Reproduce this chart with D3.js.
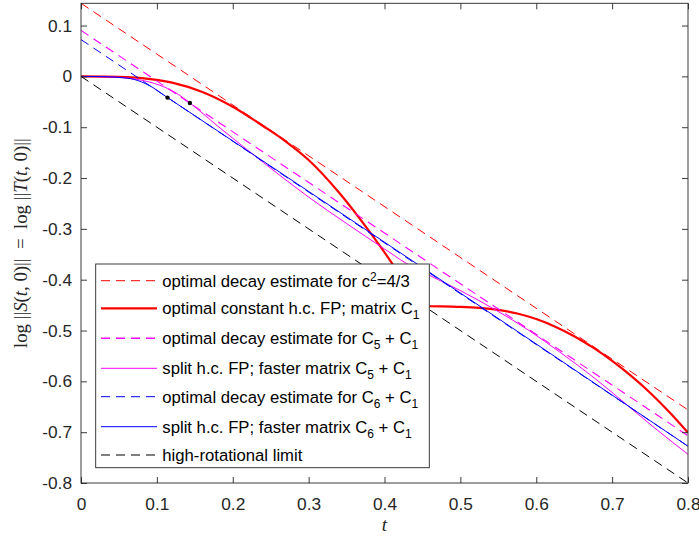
<!DOCTYPE html>
<html><head><meta charset="utf-8">
<script src="https://cdn.jsdelivr.net/npm/d3@7"></script>
<style>body{margin:0;background:#fff;} svg{display:block;}</style>
</head><body>
<svg id="c" width="699" height="538"></svg>
<script>
// ---- data ----
const xTicks = [0, 0.1, 0.2, 0.3, 0.4, 0.5, 0.6, 0.7, 0.8];
const yTicks = [-0.8, -0.7, -0.6, -0.5, -0.4, -0.3, -0.2, -0.1, 0, 0.1];
const xTickLabels = ["0", "0.1", "0.2", "0.3", "0.4", "0.5", "0.6", "0.7", "0.8"];
const yTickLabels = ["-0.8", "-0.7", "-0.6", "-0.5", "-0.4", "-0.3", "-0.2", "-0.1", "0", "0.1"];

const redDashT = [0, 0.8];
const redDashV = [0.1438, -0.6562];
const redT = [0, 0.05, 0.08, 0.12, 0.16, 0.20, 0.24, 0.27, 0.30, 0.34, 0.38, 0.41, 0.445,
              0.475, 0.50, 0.525, 0.55, 0.575, 0.60, 0.625, 0.65, 0.675, 0.70, 0.725, 0.75, 0.775, 0.80];
const redV = [0, -0.001, -0.0034, -0.0122, -0.0306, -0.0596, -0.0976, -0.1282, -0.1645, -0.2285, -0.305, -0.368, -0.452,
              -0.4525, -0.4535, -0.4555, -0.4595, -0.4665, -0.4775, -0.4925, -0.5112, -0.5338, -0.5598, -0.5893, -0.6223, -0.6598, -0.701];

const magDashT = [0, 0.8];
const magDashV = [0.0905, -0.707];
const magT = [0, 0.04, 0.07, 0.09, 0.104, 0.1235, 0.1435, 0.18, 0.22, 0.262, 0.30, 0.35, 0.40, 0.4288, 0.4586, 0.50, 0.547, 0.59, 0.6306, 0.68, 0.7228, 0.76, 0.8];
const magV = [0, -0.001, -0.005, -0.011, -0.0175, -0.031, -0.0523, -0.0975, -0.1455, -0.1946, -0.2375, -0.2895, -0.3395, -0.368, -0.391, -0.4215, -0.460, -0.4995, -0.542, -0.5975, -0.6505, -0.6965, -0.7436];

const blueDashT = [0, 0.8];
const blueDashV = [0.0724, -0.7276];
const blueT = [0, 0.03, 0.05, 0.07, 0.09, 0.114, 0.8];
const blueV = [0, -0.0005, -0.002, -0.006, -0.018, -0.0417, -0.7276];

const blackDashT = [0, 0.8];
const blackDashV = [0, -0.8];

const dotT = [0.114, 0.1435];
const dotV = [-0.0417, -0.0523];

const legendLabels = [
  [["optimal decay estimate for c", ""], ["2", "sup"], ["=4/3", ""]],
  [["optimal constant h.c. FP; matrix C", ""], ["1", "sub"]],
  [["optimal decay estimate for C", ""], ["5", "sub"], [" + C", ""], ["1", "sub"]],
  [["split h.c. FP; faster matrix C", ""], ["5", "sub"], [" + C", ""], ["1", "sub"]],
  [["optimal decay estimate for C", ""], ["6", "sub"], [" + C", ""], ["1", "sub"]],
  [["split h.c. FP; faster matrix C", ""], ["6", "sub"], [" + C", ""], ["1", "sub"]],
  [["high-rotational limit", ""]]
];

// ---- drawing ----
const svg = d3.select("#c");
const L = 81, R = 688, T = 3.3, B = 483;
const x = d3.scaleLinear().domain([0, 0.8]).range([L, R]);
const y = d3.scaleLinear().domain([-0.8, 0.1438]).range([B, T]);
const axisColor = "#262626";
const sans = "'Liberation Sans', Arial, Helvetica, sans-serif";
const serif = "'Liberation Serif', 'Times New Roman', serif";

svg.append("rect").attr("x", 0).attr("y", 0).attr("width", 699).attr("height", 538).attr("fill", "#fff");

svg.append("defs").append("clipPath").attr("id", "clip")
  .append("rect").attr("x", L).attr("y", T).attr("width", R - L).attr("height", B - T);

const zip = (ts, vs) => ts.map((t, i) => [t, vs[i]]);
const series = [
  {d: zip(redDashT, redDashV), c: "#ff0000", w: 1, dash: "9,6"},
  {d: zip(redT, redV), c: "#ff0000", w: 2.2, dash: null},
  {d: zip(magDashT, magDashV), c: "#ff00ff", w: 1.1, dash: "9,6"},
  {d: zip(magT, magV), c: "#ff00ff", w: 1, dash: null},
  {d: zip(blueDashT, blueDashV), c: "#0000ff", w: 1, dash: "9,6"},
  {d: zip(blueT, blueV), c: "#0000ff", w: 1, dash: null},
  {d: zip(blackDashT, blackDashV), c: "#000000", w: 1, dash: "9,6"}
];
const line = d3.line().x(d => x(d[0])).y(d => y(d[1])).curve(d3.curveMonotoneX);
const g = svg.append("g").attr("clip-path", "url(#clip)");
series.forEach(s => {
  g.append("path").attr("d", line(s.d)).attr("fill", "none")
    .attr("stroke", s.c).attr("stroke-width", s.w)
    .attr("stroke-dasharray", s.dash).attr("stroke-linejoin", "round");
});
g.selectAll("circle.dot").data(zip(dotT, dotV)).enter().append("circle")
  .attr("cx", d => x(d[0])).attr("cy", d => y(d[1])).attr("r", 2.2).attr("fill", "#000");

// axes
const fmtX = (d, i) => xTickLabels[i];
const fmtY = (d, i) => yTickLabels[i];
const ax = svg.append("g").attr("transform", `translate(0,${B})`)
  .call(d3.axisBottom(x).tickValues(xTicks).tickFormat(fmtX).tickSizeInner(-6).tickSizeOuter(0).tickPadding(15));
const ay = svg.append("g").attr("transform", `translate(${L},0)`)
  .call(d3.axisLeft(y).tickValues(yTicks).tickFormat(fmtY).tickSizeInner(-6).tickSizeOuter(0).tickPadding(9));
const at = svg.append("g").attr("transform", `translate(0,${T})`)
  .call(d3.axisTop(x).tickValues(xTicks).tickFormat("").tickSizeInner(-6).tickSizeOuter(0));
const ar = svg.append("g").attr("transform", `translate(${R},0)`)
  .call(d3.axisRight(y).tickValues(yTicks).tickFormat("").tickSizeInner(-6).tickSizeOuter(0));
[ax, ay, at, ar].forEach(a => {
  a.selectAll("path.domain").remove();
  a.selectAll("line").attr("stroke", axisColor).attr("stroke-width", 0.9);
  a.selectAll("text").attr("fill", axisColor).style("font-family", sans).style("font-size", "17.3px");
});
svg.append("rect").attr("x", L).attr("y", T).attr("width", R - L).attr("height", B - T)
  .attr("fill", "none").attr("stroke", axisColor).attr("stroke-width", 0.9);

// axis labels
svg.append("text").attr("x", (L + R) / 2).attr("y", 531).attr("text-anchor", "middle")
  .style("font-family", serif).style("font-style", "italic")
  .style("font-size", "19px").attr("fill", axisColor).text("t");

const yl = svg.append("text").attr("transform", `translate(27,${(T + B) / 2}) rotate(-90)`)
  .attr("text-anchor", "middle").attr("fill", axisColor)
  .style("font-family", serif).style("font-size", "18.8px")
  .attr("xml:space", "preserve").style("white-space", "pre");
const ylParts = [["log ||", false], ["S", true], ["(", false], ["t", true], [", 0)||\u2002=\u2002log ||", false], ["T", true], ["(", false], ["t", true], [", 0)||", false]];
ylParts.forEach(p => yl.append("tspan").style("font-style", p[1] ? "italic" : "normal").text(p[0]));

// legend
const lgX = 95.7, lgY = 264, lgW = 429.3 - 95.7, lgH = 467.7 - 264;
const lg = svg.append("g");
lg.append("rect").attr("x", lgX).attr("y", lgY).attr("width", lgW).attr("height", lgH)
  .attr("fill", "#fff").attr("stroke", axisColor).attr("stroke-width", 0.9);
const rowY = [280.7, 308.3, 338.3, 368.3, 396.7, 426.7, 455];
legendLabels.forEach((lab, i) => {
  const s = series[i];
  const yy = rowY[i];
  lg.append("line").attr("x1", 101).attr("x2", 157).attr("y1", yy).attr("y2", yy)
    .attr("stroke", s.c).attr("stroke-width", i === 2 ? 1.6 : s.w).attr("stroke-dasharray", s.dash);
  const tx = lg.append("text").attr("x", 162.3).attr("y", yy + 6)
    .attr("fill", "#000").style("font-family", sans).style("font-size", "16.7px")
    .attr("xml:space", "preserve").style("white-space", "pre");
  let off = 0;
  lab.forEach(seg => {
    const ts = tx.append("tspan").text(seg[0]);
    if (seg[1] === "sub") { ts.attr("dy", 5 - off).style("font-size", "12px"); off = 5; }
    else if (seg[1] === "sup") { ts.attr("dy", -6 - off).style("font-size", "12px"); off = -6; }
    else { ts.attr("dy", -off); off = 0; }
  });
});
</script>
</body></html>
